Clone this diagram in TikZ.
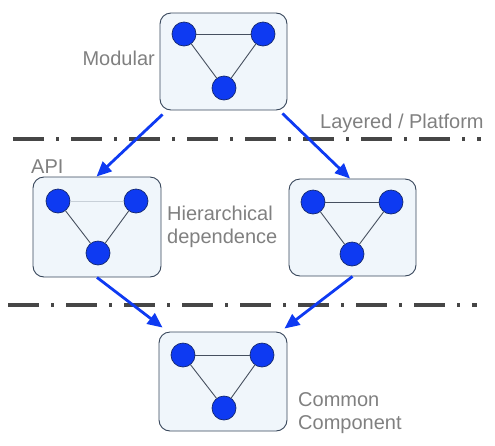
\documentclass[tikz,border=0pt]{standalone}
\usepackage{fontspec}
\setmainfont{Liberation Sans}
\usetikzlibrary{arrows.meta}
\definecolor{cblue}{RGB}{14,58,242}
\definecolor{cnavy}{RGB}{20,40,110}
\definecolor{boxfill}{RGB}{240,246,251}
\definecolor{boxline}{RGB}{55,70,90}
\definecolor{edgec}{RGB}{70,80,95}
\definecolor{lightedge}{RGB}{200,208,216}
\definecolor{lblgray}{RGB}{128,128,128}
\definecolor{sepgray}{RGB}{70,70,70}
\tikzset{
  pbox/.style={draw=boxline, line width=0.9pt, fill=boxfill, rounded corners=11pt},
  dot/.style={circle, draw=cnavy, line width=0.7pt, fill=cblue, minimum size=24pt, inner sep=0pt},
  edg/.style={draw=edgec, line width=0.9pt},
  ledg/.style={draw=lightedge, line width=0.9pt},
  flow/.style={draw=cblue, line width=2.8pt, -{Triangle[length=15pt,width=13pt]}},
  sep/.style={draw=sepgray, line width=3.5pt, dash pattern=on 31pt off 12pt on 3pt off 12pt},
  lbl/.style={text=lblgray, font=\fontsize{20}{23}\selectfont, inner sep=0pt},
}
\begin{document}
\begin{tikzpicture}[x=1pt,y=-1pt]
\useasboundingbox (0,0) rectangle (495,445);
% separators
\coordinate (s1a) at (13,139);
\coordinate (s1b) at (481,139);
\coordinate (s2a) at (8,305);
\coordinate (s2b) at (477,305);
\draw[sep] (s1a) -- (s1b);
\draw[sep] (s2a) -- (s2b);
% boxes
\node[pbox, minimum width=127pt, minimum height=97pt] (top) at (223.5,61.5) {};
\node[pbox, minimum width=128pt, minimum height=100pt] (api) at (97,227) {};
\node[pbox, minimum width=127pt, minimum height=97pt] (rgt) at (352.5,227.5) {};
\node[pbox, minimum width=128pt, minimum height=99pt] (bot) at (223,381.5) {};
% top graph
\node[dot] (t1) at (184,34) {};
\node[dot] (t2) at (263,34) {};
\node[dot] (t3) at (224,88) {};
\draw[edg] (t1) -- (t2);
\draw[edg] (t1) -- (t3);
\draw[edg] (t2) -- (t3);
% api graph
\node[dot] (a1) at (58,201) {};
\node[dot] (a2) at (136,201) {};
\node[dot] (a3) at (98,253) {};
\draw[ledg] (a1) -- (a2);
\draw[edg] (a1) -- (a3);
\draw[edg] (a2) -- (a3);
% right graph
\node[dot] (r1) at (313,202) {};
\node[dot] (r2) at (391,202) {};
\node[dot] (r3) at (352,254) {};
\draw[edg] (r1) -- (r2);
\draw[edg] (r1) -- (r3);
\draw[edg] (r2) -- (r3);
% bottom graph
\node[dot] (b1) at (183,355) {};
\node[dot] (b2) at (262,355) {};
\node[dot] (b3) at (224,408) {};
\draw[edg] (b1) -- (b2);
\draw[edg] (b1) -- (b3);
\draw[edg] (b2) -- (b3);
% arrows
\draw[flow] ([shift={(3pt,-4pt)}]top.south west) -- ([xshift=-0.5pt]api.north);
\draw[flow] ([shift={(-5pt,-3pt)}]top.south east) -- ([xshift=-2.5pt]rgt.north);
\draw[flow] ([xshift=0pt]api.south) -- ([shift={(4pt,4pt)}]bot.north west);
\draw[flow] ([xshift=0pt]rgt.south) -- ([shift={(-3pt,3pt)}]bot.north east);
% labels
\node[lbl, anchor=base east] (lmod) at (155,65) {Modular};
\node[lbl, anchor=base west] (llay) at (320,128) {Layered / Platform};
\node[lbl, anchor=base west] (lapi) at (31,173) {API};
\node[lbl, anchor=north west, align=left] (lhier) at (167,206) {Hierarchical\\dependence};
\node[lbl, anchor=north west, align=left] (lcom) at (298,392) {Common\\Component};
\end{tikzpicture}
\end{document}
